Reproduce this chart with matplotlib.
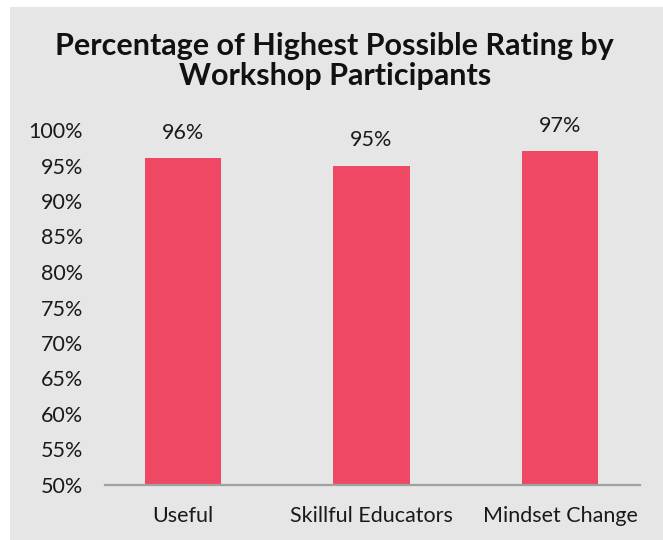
import matplotlib.pyplot as plt
from matplotlib.ticker import PercentFormatter

categories = ["Useful", "Skillful Educators", "Mindset Change"]
values = [96, 95, 97]
yticks = list(range(50, 101, 5))

plt.rcParams['font.family'] = ['Lato', 'DejaVu Sans']

fig = plt.figure(figsize=(6.63, 5.4), dpi=100)
fig.patch.set_facecolor('white')
# gray panel with a thin white margin top/left
fig.patches.append(plt.Rectangle((10/663, 0), 1, 1 - 7/540, transform=fig.transFigure,
                                 facecolor='#e6e6e6', edgecolor='none', zorder=-5))

ax = fig.add_axes([105/663, 55/540, 535/663, 355/540])
ax.set_facecolor('none')

x = range(len(categories))
ax.bar(x, values, width=0.405, color='#ef4865', zorder=2)
for xi, v in zip(x, values):
    ax.text(xi, v + 2.2, f"{v}%", ha='center', va='bottom', fontsize=15.5, color='#1a1a1a')

ax.set_ylim(50, 100)
ax.set_xlim(-0.414, 2.424)
ax.set_yticks(yticks)
ax.yaxis.set_major_formatter(PercentFormatter(decimals=0))
ax.set_xticks(list(x))
ax.set_xticklabels(categories)
ax.tick_params(axis='both', length=0, labelsize=15.5, colors='#1a1a1a')
ax.tick_params(axis='x', pad=15)
ax.tick_params(axis='y', pad=16)

for s in ['top', 'right', 'left']:
    ax.spines[s].set_visible(False)
ax.spines['bottom'].set_color('#a0a0a0')
ax.spines['bottom'].set_linewidth(1.6)

fig.text(0.505, 1 - 61/540, "Percentage of Highest Possible Rating by\nWorkshop Participants",
         ha='center', va='center', fontsize=22, fontweight='bold', linespacing=1.12, color='#111111')

fig.savefig('out.png', dpi=100)
